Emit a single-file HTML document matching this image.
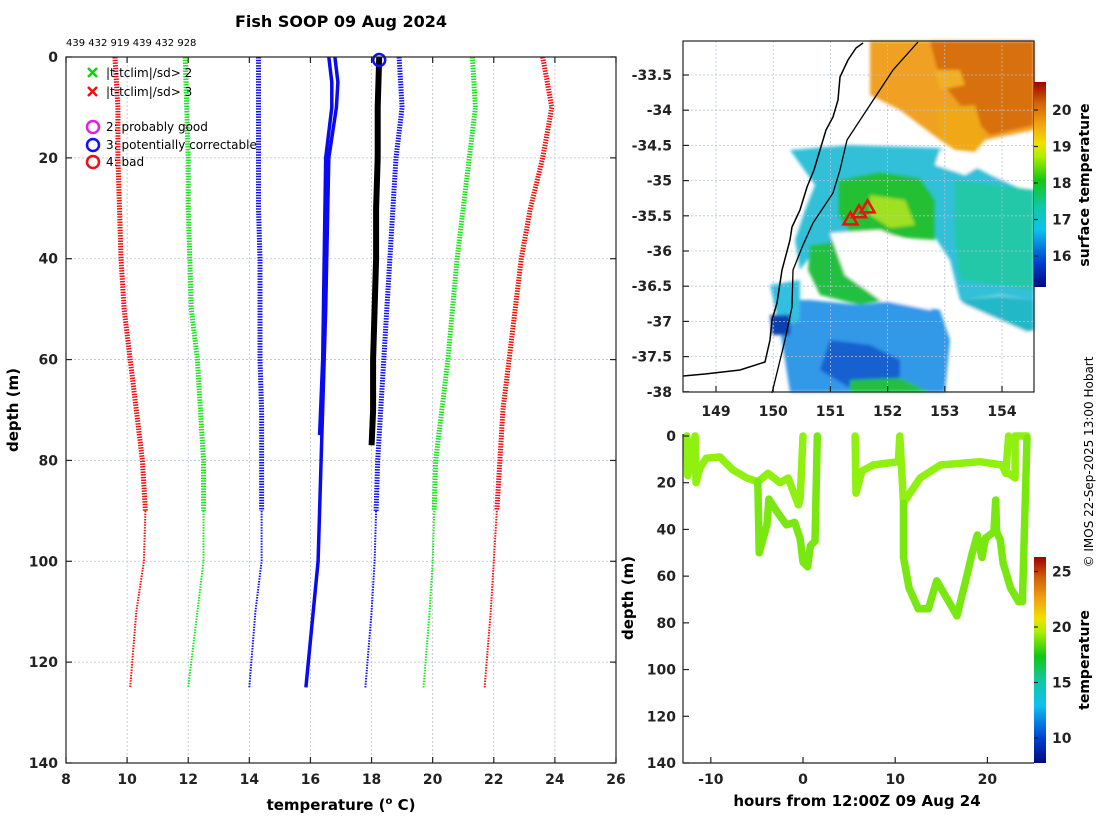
<!DOCTYPE html>
<html><head><meta charset="utf-8"><style>
body{margin:0;background:#fff;}
svg{display:block;font-family:"DejaVu Sans","Liberation Sans",sans-serif;}
.tk{font-size:14px;font-weight:bold;fill:#222;}
.ax{stroke:#222;stroke-width:1.2;fill:none;}
.grid{stroke:#b8c0d8;stroke-width:0.8;stroke-dasharray:2 2;}
</style></head><body>
<svg id="fig" width="1100" height="820" viewBox="0 0 1100 820" xmlns="http://www.w3.org/2000/svg">
<defs>
<linearGradient id="jet" x1="0" y1="1" x2="0" y2="0">
<stop offset="0" stop-color="#000a80"/><stop offset="0.12" stop-color="#0040d0"/><stop offset="0.28" stop-color="#10c0f0"/><stop offset="0.4" stop-color="#10c8a0"/><stop offset="0.52" stop-color="#10c810"/><stop offset="0.64" stop-color="#b0f000"/><stop offset="0.7" stop-color="#f0e000"/><stop offset="0.8" stop-color="#f0a010"/><stop offset="0.9" stop-color="#d06008"/><stop offset="1" stop-color="#a00000"/>
</linearGradient>
<filter id="blur"><feGaussianBlur stdDeviation="1.5"/></filter>
</defs>
<text x="341" y="27" text-anchor="middle" font-size="16" font-weight="bold">Fish SOOP 09 Aug 2024</text>
<text x="66" y="46" font-size="10">439 432 919 439 432 928</text>
<g id="left"></g>
<g id="map"></g>
<g id="ts"></g>
<text transform="translate(1093,462) rotate(-90)" text-anchor="middle" font-size="12">© IMOS 22-Sep-2025 13:00 Hobart</text>
</svg>
<script>
// ---------- profile plot data ----------
const profDepths = [0,10,20,30,40,50,60,70,80,90,100,110,125];
const redLeft   = [9.6,9.7,9.7,9.75,9.8,9.9,10.1,10.3,10.5,10.6,10.55,10.3,10.1];
const greenLeft = [11.9,11.95,12.0,12.0,12.05,12.1,12.3,12.4,12.5,12.5,12.5,12.3,12.0];
const blueLeft  = [14.3,14.3,14.3,14.3,14.35,14.35,14.35,14.4,14.4,14.4,14.4,14.2,14.0];
const blueRight = [18.9,19.0,18.8,18.7,18.6,18.5,18.4,18.3,18.2,18.15,18.1,18.0,17.8];
const greenRight= [21.3,21.4,21.2,21.0,20.8,20.65,20.5,20.3,20.1,20.05,20.0,19.9,19.7];
const redRight  = [23.6,23.9,23.6,23.2,22.9,22.7,22.5,22.3,22.2,22.1,22.0,21.9,21.7];
const solid1Depth = [0,5,10,20,40,60,75];
const solid1Temp  = [16.6,16.7,16.7,16.5,16.45,16.4,16.3];
const solid2Depth = [0,5,10,20,50,80,100,125];
const solid2Temp  = [16.8,16.9,16.85,16.6,16.5,16.35,16.25,15.85];
const blackDepth = [0,10,20,30,40,50,60,70,77];
const blackTemp  = [18.25,18.2,18.2,18.15,18.15,18.1,18.05,18.05,18.0];
const xTicks = [8,10,12,14,16,18,20,22,24,26];
const yTicks = [0,20,40,60,80,100,120,140];

// ---------- map data ----------
const shipLon = [151.35,151.5,151.65];
const shipLat = [-35.55,-35.45,-35.38];
const lonTicks = [149,150,151,152,153,154];
const latTicks = [-33.5,-34,-34.5,-35,-35.5,-36,-36.5,-37,-37.5,-38];
const sstTicks = [16,17,18,19,20];

// ---------- depth-time data ----------
const tsTimeA = [-12.6,-12.5,-12.1,-11.7,-11.6,-11.2,-10.5,-9.0,-8.5,-7.6,-6.1,-4.9,-3.8,-2.5,-1.6,-0.5,-0.3,0.0];
const tsDepthA= [0,17,9,0,20,14,9.5,9,11,14.5,18,19.6,16,20,18,29.5,26.5,0];
const tsTimeB = [-4.9,-4.75,-3.9,-3.7,-2.9,-1.8,-0.9,-0.3,0.0,0.5,0.8,1.3,1.55];
const tsDepthB= [19.6,50,38,27,32,38,37,44,54,56,47,45,0];
const tsTimeC = [5.65,5.75,6.4,7.6,10.35,10.5,10.9,12.7,14.9,19.2,21.6,22.0,22.3];
const tsDepthC= [0,24.5,15,12.4,11,0,28.7,18,12.4,11,12.4,16,0];
const tsTimeD = [22.3,23.0,23.0,24.3];
const tsDepthD= [16,18,0,0];
const tsTimeE = [10.9,10.9,11.5,12.5,13.6,14.5,15.6,16.7,17.8,18.3,18.9,19.4,19.8,20.7,20.9,21.0,21.4,21.7,22.5,23.4,23.8,24.3];
const tsDepthE= [28.7,52,65,74,74,62,69.5,77,59.5,51,42.4,52,43.7,41,27.4,41,44.5,54.4,65,71,71,1];
const tempTicks = [10,15,20,25];
const hourTicks = [-10,0,10,20];
const tsDepthTicks = [0,20,40,60,80,100,120,140];

const NS="http://www.w3.org/2000/svg";
function mk(tag, attrs, parent){const e=document.createElementNS(NS,tag);for(const k in attrs)e.setAttribute(k,attrs[k]);parent.appendChild(e);return e;}
function txt(s, attrs, parent){const e=mk('text',attrs,parent);e.textContent=s;return e;}
function poly(xs,ys,fx,fy){return xs.map((v,i)=>fx(v).toFixed(1)+','+fy(ys[i]).toFixed(1)).join(' ');}

// ===== profile plot =====
const L=document.getElementById('left');
const px=t=>66+(t-8)*(550/18), py=d=>57+d*(706/140);
xTicks.forEach(t=>{const g=mk('line',{x1:px(t),x2:px(t),y1:57,y2:763,class:'grid'},L);

});
yTicks.forEach(d=>{const g=mk('line',{x1:66,x2:616,y1:py(d),y2:py(d),class:'grid'},L);

});
const dotted=[[redLeft,'#f01010'],[greenLeft,'#20e020'],[blueLeft,'#1010f0'],[blueRight,'#1010f0'],[greenRight,'#20e020'],[redRight,'#f01010']];
dotted.forEach(([arr,c],i)=>{
 const p1=mk('polyline',{points:poly(arr.slice(0,10),profDepths.slice(0,10),px,py),fill:'none',stroke:c,'stroke-width':5,'stroke-dasharray':'1.5 1.2'},L);
 
 
 const p2=mk('polyline',{points:poly(arr.slice(9),profDepths.slice(9),px,py),fill:'none',stroke:c,'stroke-width':2,'stroke-dasharray':'1.5 1.2'},L);
 
 
});
const s1=mk('polyline',{points:poly(solid1Temp,solid1Depth,px,py),fill:'none',stroke:'#0a0af0','stroke-width':3.5},L);


const s2=mk('polyline',{points:poly(solid2Temp,solid2Depth,px,py),fill:'none',stroke:'#0a0af0','stroke-width':3.5},L);


const bk=mk('polyline',{points:poly(blackTemp,blackDepth,px,py),fill:'none',stroke:'#000','stroke-width':6},L);


const qc=mk('circle',{cx:px(blackTemp[0]),cy:py(blackDepth[0])+3,r:6,fill:'none',stroke:'#1010f0','stroke-width':2.5},L);


mk('rect',{x:66,y:57,width:550,height:706,class:'ax'},L);
xTicks.forEach(t=>{const e=txt(String(t),{x:px(t),y:784,'text-anchor':'middle',class:'tk'},L);


mk('line',{x1:px(t),x2:px(t),y1:763,y2:757,class:'ax'},L);mk('line',{x1:px(t),x2:px(t),y1:57,y2:63,class:'ax'},L);});
yTicks.forEach(d=>{const e=txt(String(d),{x:58,y:py(d)+5,'text-anchor':'end',class:'tk'},L);


mk('line',{x1:66,x2:72,y1:py(d),y2:py(d),class:'ax'},L);mk('line',{x1:616,x2:610,y1:py(d),y2:py(d),class:'ax'},L);});
const xt=txt('',{x:341,y:810,'text-anchor':'middle','font-size':15,'font-weight':'bold'},L);
xt.innerHTML='temperature (<tspan dy="-6" font-size="10">o</tspan><tspan dy="6"> C)</tspan>';


const yt=txt('depth (m)',{transform:'translate(18,410) rotate(-90)','text-anchor':'middle','font-size':15,'font-weight':'bold'},L);


// legend
const lg=mk('g',{},L);


[['#10d010',73,'|t-tclim|/sd> 2'],['#f01010',92,'|t-tclim|/sd> 3']].forEach(([c,y,s])=>{
 mk('path',{d:`M88 ${y-5}l9 9M97 ${y-5}l-9 9`,stroke:c,'stroke-width':2.5},lg);
 const e=txt(s,{x:106,y:y+4,'font-size':12},lg);
 
 
});
[['#e020e0',127,'2: probably good'],['#1010f0',145,'3: potentially correctable'],['#f01010',162,'4: bad']].forEach(([c,y,s])=>{
 mk('circle',{cx:93,cy:y,r:6,fill:'none',stroke:c,'stroke-width':2.5},lg);
 const e=txt(s,{x:106,y:y+4,'font-size':12},lg);
 
 
});

// ===== map =====
const M=document.getElementById('map');
const mx=lon=>716+(lon-149)*57.2, my=lat=>75+(-33.5-lat)*70.4;
const img=mk('g',{filter:'url(#blur)'},M);


const blobs=[
 ['#f0a020','M870 41 L1034 41 L1034 130 L985 140 L960 120 L940 140 L900 110 L870 95 Z'],
 ['#d8700c','M930 41 L1034 41 L1034 125 L990 135 L960 105 L940 80 Z'],
 ['#f0a818','M935 108 L975 105 L985 140 L975 152 L955 150 L940 140 Z'],
 ['#f0b020','M935 70 L960 70 L965 85 L940 90 Z'],
 ['#30c0d8','M790 150 L850 145 L940 148 L990 175 L1034 195 L1034 300 L1000 295 L960 300 L950 260 L930 230 L890 235 L850 235 L815 250 L800 270 L795 240 L805 210 L815 185 Z'],
 ['#20b8c8','M960 300 L1000 296 L1034 300 L1034 330 L1000 340 L980 320 Z'],
 ['#20c030','M838 180 L880 172 L920 178 L935 200 L935 240 L905 238 L880 232 L850 232 L838 215 Z'],
 ['#a0e020','M870 195 L905 200 L915 225 L890 228 L870 215 Z'],
 ['#20c8a8','M955 180 L1034 190 L1034 290 L1000 285 L960 280 L955 240 Z'],
 ['#20c040','M810 245 L850 240 L880 265 L885 300 L860 305 L820 295 L808 270 Z'],
 ['#3098e8','M775 300 L810 300 L860 305 L900 300 L940 310 L950 340 L945 392 L790 392 L785 360 Z'],
 ['#1860d0','M830 340 L870 345 L900 360 L900 385 L850 388 L820 370 Z'],
 ['#30c0e0','M770 285 L800 280 L800 320 L780 330 Z'],
 ['#1040b0','M770 315 L790 315 L790 335 L772 335 Z'],
 ['#20c040','M850 380 L900 378 L930 392 L850 392 Z']
];
blobs.forEach(([c,d])=>{const p=mk('path',{d:d,fill:c},img);

});
// white gaps
[['M830 233 L880 230 L930 250 L947 300 L930 310 L880 300 L845 275 Z'],['M955 300 L1034 335 L1034 392 L955 392 Z'],['M940 150 L990 160 L965 175 L935 165 Z']].forEach(([d])=>{
 const p=mk('path',{d:d,fill:'#fff'},img);
 
 });
lonTicks.forEach(l=>{const g=mk('line',{x1:mx(l),x2:mx(l),y1:41,y2:392,class:'grid'},M);


const e=txt(String(l),{x:mx(l),y:416,'text-anchor':'middle',class:'tk'},M);


mk('line',{x1:mx(l),x2:mx(l),y1:392,y2:386,class:'ax'},M);});
latTicks.forEach(l=>{const g=mk('line',{x1:683,x2:1034,y1:my(l),y2:my(l),class:'grid'},M);


const e=txt(String(l),{x:672,y:my(l)+5,'text-anchor':'end',class:'tk'},M);


mk('line',{x1:683,x2:689,y1:my(l),y2:my(l),class:'ax'},M);});
const coast=mk('path',{d:'M683 376 L705 374 L740 370 L765 362 L770 340 L772 320 L777 303 L782 270 L790 240 L792 227 L800 210 L807 187 L814 170 L820 150 L826 130 L833 117 L838 100 L840 77 L848 60 L856 48 L863 43',fill:'none',stroke:'#000','stroke-width':1.5},M);


const shelf=mk('path',{d:'M772 393 L785 340 L792 307 L793 270 L803 245 L813 223 L833 193 L840 170 L847 140 L870 105 L893 70 L918 42',fill:'none',stroke:'#000','stroke-width':1.3},M);


shipLon.forEach((lo,i)=>{const x=mx(lo),y=my(shipLat[i]);
 const t=mk('path',{d:`M${x} ${y-7} L${x+7} ${y+5} L${x-7} ${y+5} Z`,fill:'none',stroke:'#f01010','stroke-width':2.5},M);
 
 });
mk('rect',{x:683,y:41,width:351,height:351,class:'ax'},M);
const cb1=mk('rect',{x:1034,y:82,width:12,height:205,fill:'url(#jet)'},M);


const cby=v=>256-(v-16)*36.5;
sstTicks.forEach(v=>{mk('line',{x1:1034,x2:1038,y1:cby(v),y2:cby(v),class:'ax'},M);
const e=txt(String(v),{x:1052,y:cby(v)+5,class:'tk'},M);

});
const st=txt('surface temperature',{transform:'translate(1089,185) rotate(-90)','text-anchor':'middle','font-size':14,'font-weight':'bold'},M);



// ===== depth-time plot =====
const T=document.getElementById('ts');
const tx=h=>803+h*9.22, ty=d=>436+d*(327/140);
[[tsTimeA,tsDepthA],[tsTimeB,tsDepthB],[tsTimeC,tsDepthC],[tsTimeD,tsDepthD],[tsTimeE,tsDepthE]].forEach(([t,d],i)=>{
 const p=mk('polyline',{points:poly(t,d,tx,ty),fill:'none',stroke:i==4||i==1?'#78e810':'#90f010','stroke-width':7.5,'stroke-linejoin':'round','stroke-linecap':'round'},T);
 
 
});
mk('path',{d:'M683 434 L683 763 L1034 763',class:'ax'},T);
hourTicks.forEach(h=>{mk('line',{x1:tx(h),x2:tx(h),y1:763,y2:757,class:'ax'},T);
const e=txt(String(h),{x:tx(h),y:784,'text-anchor':'middle',class:'tk'},T);

});
tsDepthTicks.forEach(d=>{mk('line',{x1:683,x2:689,y1:ty(d),y2:ty(d),class:'ax'},T);
const e=txt(String(d),{x:676,y:ty(d)+5,'text-anchor':'end',class:'tk'},T);

});
const hx=txt('hours from 12:00Z 09 Aug 24',{x:857,y:806,'text-anchor':'middle','font-size':15,'font-weight':'bold'},T);


const dy=txt('depth (m)',{transform:'translate(633,598) rotate(-90)','text-anchor':'middle','font-size':15,'font-weight':'bold'},T);


const cb2=mk('rect',{x:1034,y:557,width:12,height:206,fill:'url(#jet)'},T);


const cty=v=>738-(v-10)*11.1;
tempTicks.forEach(v=>{mk('line',{x1:1034,x2:1038,y1:cty(v),y2:cty(v),class:'ax'},T);
const e=txt(String(v),{x:1052,y:cty(v)+5,class:'tk'},T);

});
const ct=txt('temperature',{transform:'translate(1089,660) rotate(-90)','text-anchor':'middle','font-size':14,'font-weight':'bold'},T);


</script>
</body></html>
